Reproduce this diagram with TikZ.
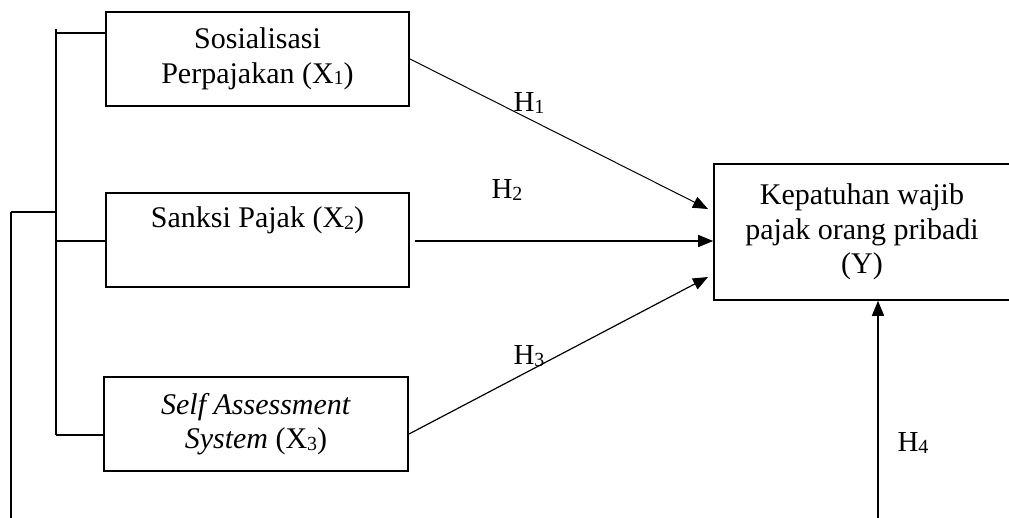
\documentclass[tikz,border=0pt]{standalone}
\usepackage{fontspec}
\setmainfont{Liberation Serif}
\usetikzlibrary{arrows.meta,calc}
\newcommand\mysub[1]{\raisebox{-1.5pt}{\fontsize{20}{20}\selectfont #1}}
\tikzset{
  box/.style={draw, line width=1.6pt, align=center, inner sep=0pt,
    font=\fontsize{30}{34.5}\selectfont},
  lbl/.style={font=\fontsize{29}{33}\selectfont, inner sep=0pt},
  conn/.style={line width=1pt, -{Triangle[length=15pt,width=12pt]}},
  brk/.style={line width=1.2pt}
}
\begin{document}
\begin{tikzpicture}[x=1pt,y=-1pt]
\useasboundingbox (0,0) rectangle (1009,518);
% boxes
\node[box, minimum width=303pt, minimum height=94pt] (x1) at (257.5,59)
  {Sosialisasi\\Perpajakan (X\mysub{1})};
\node[box, minimum width=303pt, minimum height=94pt] (x2) at (257.5,240)
  {Sanksi Pajak (X\mysub{2})\\\strut};
\node[box, minimum width=304pt, minimum height=94pt] (x3) at (256,424)
  {\textit{Self Assessment}\\\textit{System} (X\mysub{3})};
\node[box, minimum width=296pt, minimum height=136pt] (y) at (862,232)
  {Kepatuhan wajib\\pajak orang pribadi\\(Y)};
% bracket
\coordinate (btop) at (56,29);
\coordinate (bbot) at (56,435);
\coordinate (otop) at (11,212);
\coordinate (obot) at (11,518);
\draw[brk] (btop) -- (bbot);
\draw[brk] (btop |- 0,33) -- (x1.west |- 0,33);
\draw[brk] (btop |- 0,241) -- (x2.west |- 0,241);
\draw[brk] (bbot) -- (x3.west |- bbot);
\draw[brk] (otop) -- (btop |- otop);
\draw[brk] (otop) -- (obot);
% arrows
\coordinate (s1) at (410,59);
\coordinate (t1) at (708,209);
\coordinate (s2) at (415,241);
\coordinate (s3) at (409,434);
\coordinate (t3) at (708,277);
\coordinate (s4) at (878,518);
\draw[conn] (s1) -- (t1);
\draw[conn, line width=1.4pt] (s2) -- (y.west |- s2);
\draw[conn, line width=1.2pt] (s3) -- (t3);
\draw[conn, line width=1.4pt] (s4) -- (s4 |- y.south);
% labels
\node[lbl] (h1) at (529,103) {H\mysub{1}};
\node[lbl] (h2) at (507,190) {H\mysub{2}};
\node[lbl] (h3) at (529,356) {H\mysub{3}};
\node[lbl] (h4) at (913,443) {H\mysub{4}};
\end{tikzpicture}
\end{document}
